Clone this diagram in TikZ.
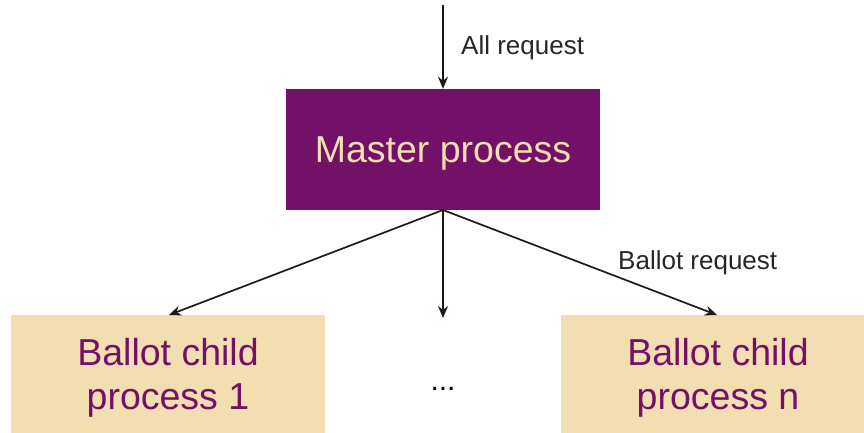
\documentclass[tikz,border=0pt]{standalone}
\usepackage{fontspec}
\setmainfont{Liberation Sans}
\usetikzlibrary{arrows.meta}
\definecolor{mpurple}{HTML}{731068}
\definecolor{mbeige}{HTML}{F2DEB0}
\definecolor{mline}{HTML}{231815}
\begin{document}
\begin{tikzpicture}[x=1pt,y=-1pt,
  master/.style={fill=mpurple,draw=none,minimum width=314pt,minimum height=121pt,inner sep=0pt},
  mtext/.style={text=mbeige,inner sep=0pt,font=\fontsize{37.5}{44}\selectfont},
  child/.style={fill=mbeige,draw=none,minimum width=314pt,minimum height=118pt,inner sep=0pt},
  ctext/.style={text=mpurple,inner sep=0pt,align=center,font=\fontsize{37.5}{44}\selectfont},
  conn/.style={draw=mline,line width=1.7pt,-{Stealth[length=12pt,width=10pt]}},
  lbl/.style={text=black!85,font=\fontsize{26}{30}\selectfont,inner sep=0pt}]
\useasboundingbox (0,0) rectangle (864,433);
\node[master] (m) at (443,149.5) {};
\node[mtext] (mt) at (443,153) {Master process};
\node[child] (c1) at (168,374) {};
\node[ctext] (c1t) at (168,378) {Ballot child\\process 1};
\node[child] (cn) at (718,374) {};
\node[ctext] (cnt) at (718,378) {Ballot child\\process n};
\node[inner sep=0pt,font=\fontsize{30}{36}\selectfont] (dots) at (443,389) {...};
\coordinate (top) at (443,5);
\coordinate (mb) at (443,210);
\coordinate (t1) at (169,315);
\coordinate (tn) at (717,315);
\coordinate (tm) at (443,318);
\draw[conn] (top) -- (m.north);
\draw[conn] (mb) -- (t1);
\draw[conn] (mb) -- (tm);
\draw[conn] (mb) -- (tn);
\node[lbl,anchor=west] (l1) at (461,48) {All request};
\node[lbl,anchor=west] (l2) at (618,263) {Ballot request};
\end{tikzpicture}
\end{document}
